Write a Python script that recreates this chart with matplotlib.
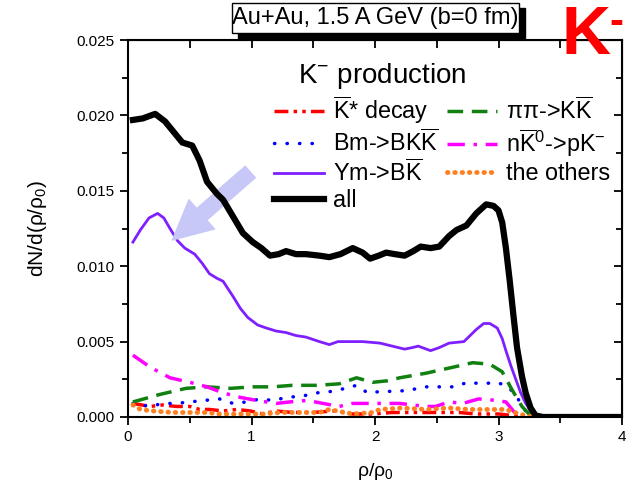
import matplotlib
matplotlib.use("Agg")
import matplotlib.pyplot as plt
from matplotlib.patches import Rectangle
from matplotlib.ticker import MultipleLocator

plt.rcParams['font.family'] = ['Liberation Sans', 'DejaVu Sans']
plt.rcParams['mathtext.fontset'] = 'custom'
plt.rcParams['mathtext.rm'] = 'Liberation Sans'
plt.rcParams['mathtext.it'] = 'Liberation Sans:italic'
plt.rcParams['mathtext.bf'] = 'Liberation Sans:bold'
plt.rcParams['mathtext.default'] = 'rm'

# ---- data ----
all_x = [0.04, 0.12, 0.22, 0.30, 0.38, 0.44, 0.52, 0.58, 0.64, 0.72, 0.77, 0.85, 0.93, 1.01,
         1.08, 1.15, 1.22, 1.28, 1.36, 1.44, 1.55, 1.63, 1.72, 1.82, 1.90, 1.96, 2.03, 2.09,
         2.16, 2.24, 2.31, 2.37, 2.45, 2.52, 2.60, 2.66, 2.74, 2.82, 2.90, 2.96, 3.00, 3.03,
         3.06, 3.09, 3.12, 3.15, 3.19, 3.22, 3.26, 3.30, 3.36, 4.0]
all_y = [0.0197, 0.0198, 0.0201, 0.0196, 0.0188, 0.0182, 0.0180, 0.0170, 0.0156, 0.0148,
         0.0144, 0.0133, 0.0122, 0.0116, 0.0112, 0.0107, 0.0108, 0.0110, 0.0108, 0.0108,
         0.0107, 0.0106, 0.0108, 0.0112, 0.0109, 0.0105, 0.0107, 0.0109, 0.0108, 0.0107,
         0.0110, 0.0113, 0.0112, 0.0113, 0.0120, 0.0124, 0.0127, 0.0135, 0.0141, 0.0140,
         0.0137, 0.0129, 0.0112, 0.0091, 0.0068, 0.0046, 0.0027, 0.0016, 0.0006, 0.0001,
         0.0, 0.0]

ym_x = [0.04, 0.10, 0.17, 0.24, 0.29, 0.34, 0.40, 0.46, 0.54, 0.60, 0.66, 0.72, 0.77, 0.85,
        0.91, 0.97, 1.05, 1.12, 1.20, 1.28, 1.36, 1.44, 1.55, 1.63, 1.70, 1.77, 1.90, 2.04,
        2.14, 2.24, 2.30, 2.35, 2.45, 2.52, 2.60, 2.72, 2.77, 2.82, 2.88, 2.93, 2.99, 3.03,
        3.06, 3.10, 3.14, 3.18, 3.22, 3.27, 3.32]
ym_y = [0.0116, 0.0124, 0.0132, 0.0135, 0.0132, 0.0125, 0.0117, 0.0112, 0.0108, 0.0102,
        0.0095, 0.0092, 0.0090, 0.0080, 0.0072, 0.0066, 0.0061, 0.0059, 0.0057, 0.0056,
        0.0054, 0.0053, 0.0050, 0.0048, 0.0050, 0.0050, 0.0050, 0.0049, 0.0047, 0.0045,
        0.0046, 0.0047, 0.0044, 0.0046, 0.0049, 0.0050, 0.0054, 0.0058, 0.0062, 0.0062,
        0.0059, 0.0052, 0.0044, 0.0034, 0.0025, 0.0016, 0.0009, 0.0003, 0.0]

pipi_x = [0.04, 0.26, 0.47, 0.64, 0.83, 1.01, 1.17, 1.33, 1.53, 1.71, 1.85, 1.98, 2.10, 2.20,
          2.41, 2.63, 2.79, 2.93, 3.03, 3.11, 3.19, 3.27]
pipi_y = [0.0010, 0.0015, 0.0019, 0.0020, 0.0019, 0.0020, 0.0020, 0.0021, 0.0021, 0.0022,
          0.0026, 0.0023, 0.0024, 0.0026, 0.0029, 0.0033, 0.0036, 0.0035, 0.0030, 0.0018,
          0.0007, 0.0]

bm_x = [0.04, 0.18, 0.28, 0.39, 0.50, 0.62, 0.74, 0.85, 0.96, 1.07, 1.17, 1.29, 1.42, 1.53,
        1.65, 1.76, 1.85, 1.94, 2.06, 2.18, 2.29, 2.41, 2.52, 2.64, 2.75, 2.87, 2.98, 3.06,
        3.14, 3.19, 3.25]
bm_y = [0.0009, 0.0007, 0.0009, 0.0009, 0.0010, 0.0011, 0.0012, 0.0009, 0.0010, 0.0012,
        0.0011, 0.0013, 0.0014, 0.0016, 0.0017, 0.0019, 0.0021, 0.0016, 0.0017, 0.0017,
        0.0018, 0.0020, 0.0020, 0.0020, 0.0023, 0.0022, 0.0023, 0.0021, 0.0015, 0.0007,
        0.0001]

nk_x = [0.04, 0.18, 0.34, 0.50, 0.64, 0.77, 0.91, 1.04, 1.20, 1.31, 1.45, 1.58, 1.71, 1.82,
        1.98, 2.20, 2.41, 2.49, 2.60, 2.71, 2.84, 2.98, 3.06, 3.13, 3.19]
nk_y = [0.0041, 0.0033, 0.0026, 0.0023, 0.0020, 0.0016, 0.0013, 0.0011, 0.0009, 0.0010,
        0.0011, 0.0009, 0.0007, 0.0009, 0.0009, 0.0009, 0.0007, 0.0007, 0.0010, 0.0009,
        0.0012, 0.0011, 0.0010, 0.0003, 0.0]

kstar_x = [0.04, 0.18, 0.28, 0.39, 0.50, 0.58, 0.66, 0.77, 0.88, 0.99, 1.09, 1.20, 1.33,
           1.50, 1.66, 1.82, 1.98, 2.14, 2.41, 2.68, 2.82, 3.00, 3.11, 3.20]
kstar_y = [0.0009, 0.0007, 0.0008, 0.0007, 0.0007, 0.0005, 0.0005, 0.0004, 0.0005, 0.0004,
           0.0002, 0.0004, 0.0003, 0.0003, 0.0004, 0.0002, 0.0002, 0.0003, 0.0003, 0.0003,
           0.0002, 0.0002, 0.0001, 0.0]

oth_x = [0.04, 0.10, 0.20, 0.36, 0.52, 0.64, 0.74, 0.85, 0.96, 1.09, 1.23, 1.39, 1.55, 1.63,
         1.82, 1.98, 2.04, 2.22, 2.41, 2.60, 2.76, 2.95, 3.06, 3.17, 3.27]
oth_y = [0.0008, 0.0005, 0.0004, 0.0003, 0.0003, 0.0003, 0.0002, 0.0002, 0.0002, 0.0002,
         0.0003, 0.0003, 0.0003, 0.0005, 0.0002, 0.0003, 0.0005, 0.0006, 0.0005, 0.0006,
         0.0005, 0.0005, 0.0005, 0.0002, 0.0]

labels = [r"$\overline{\mathrm{K}}$* decay", r"Bm->BK$\overline{\mathrm{K}}$",
          r"Ym->B$\overline{\mathrm{K}}$", "all", r"ππ->K$\overline{\mathrm{K}}$",
          r"n$\overline{\mathrm{K}}^{0}$->pK$^{-}$", "the others"]

W, H = 637, 488
fig = plt.figure(figsize=(W / 100, H / 100), dpi=100)
ax = fig.add_axes([128 / W, 71 / H, 494 / W, 377 / H])

h1, = ax.plot(kstar_x, kstar_y, color='red', lw=2.5, ls=(0, (4, 1.5, 1, 1.5, 1, 1.5)))
h2, = ax.plot(bm_x, bm_y, color='blue', lw=2.5, ls=(0, (0.1, 3.5)), dash_capstyle='round')
h3, = ax.plot(ym_x, ym_y, color='#7f1fff', lw=2)
h4, = ax.plot(all_x, all_y, color='black', lw=4.5, zorder=5)
h5, = ax.plot(pipi_x, pipi_y, color='#108010', lw=2.5, ls=(0, (4.5, 2.5)))
h6, = ax.plot(nk_x, nk_y, color='magenta', lw=2.5, ls=(0, (5, 2.5, 1, 2.5)))
h7, = ax.plot(oth_x, oth_y, color='#ff8020', lw=3.5, ls=(0, (0.1, 1.4)), dash_capstyle='round')

ax.annotate("", xy=(0.36, 0.01174), xytext=(0.99, 0.01625),
            arrowprops=dict(arrowstyle="simple,head_length=1.4,head_width=1.4,tail_width=0.55",
                            color='#c8c8f8', mutation_scale=20, shrinkA=0, shrinkB=0))

ax.set_xlim(0, 4)
ax.set_ylim(0, 0.025)
ax.xaxis.set_major_locator(MultipleLocator(1))
ax.xaxis.set_minor_locator(MultipleLocator(0.5))
ax.yaxis.set_major_locator(MultipleLocator(0.005))
ax.yaxis.set_minor_locator(MultipleLocator(0.0025))
ax.yaxis.set_major_formatter(matplotlib.ticker.FormatStrFormatter('%.3f'))
ax.tick_params(which='both', direction='out', width=1.3, labelsize=11, colors='black')
ax.tick_params(which='major', length=6)
ax.tick_params(which='minor', length=4)
for s in ax.spines.values():
    s.set_linewidth(1.5)

# inward ticks on the top and right spines
axt = ax.secondary_xaxis('top')
axt.xaxis.set_major_locator(MultipleLocator(0.5))
axt.tick_params(direction='in', length=6, width=1.3, labeltop=False)
axr = ax.secondary_yaxis('right')
axr.yaxis.set_major_locator(MultipleLocator(0.005))
axr.yaxis.set_minor_locator(MultipleLocator(0.0025))
axr.tick_params(which='both', direction='in', width=1.3, labelright=False)
axr.tick_params(which='major', length=6)
axr.tick_params(which='minor', length=4)

ax.set_xlabel(r"ρ/ρ$_0$", fontsize=14, labelpad=12)
ax.set_ylabel(r"dN/d(ρ/ρ$_0$)", fontsize=15, labelpad=20)

leg = ax.legend([h1, h2, h3, h4, h5, h6, h7], labels, ncol=2, frameon=False,
                fontsize=16.8, handlelength=2.15, handletextpad=0.4, columnspacing=0.35,
                labelspacing=0.13, borderpad=0, loc='upper left',
                bbox_to_anchor=(262 / W, 1 - 83 / H), bbox_transform=fig.transFigure)

fig.text(298 / W, 1 - 76 / H, r"K$^{-}$ production", fontsize=20, va='center', ha='left')

# header box with drop shadow (boxes drawn in figure pixels)
fig.patches.append(Rectangle((238 / W, 1 - 38 / H), 287 / W, 30 / H,
                             transform=fig.transFigure, facecolor='black', edgecolor='black'))
fig.patches.append(Rectangle((232 / W, 1 - 33 / H), 287 / W, 30 / H,
                             transform=fig.transFigure, facecolor='white', edgecolor='black', lw=1))
fig.text(375 / W, 1 - 18 / H, "Au+Au, 1.5 A GeV (b=0 fm)", fontsize=17,
         ha='center', va='center')

fig.text(561 / W, 1 - 36 / H, "K", fontsize=49, fontweight='bold', color='red',
         va='center', ha='left')
fig.text(609 / W, 1 - 23 / H, "-", fontsize=30, fontweight='bold', color='red',
         va='center', ha='left')

fig.savefig("out.png", dpi=100)
